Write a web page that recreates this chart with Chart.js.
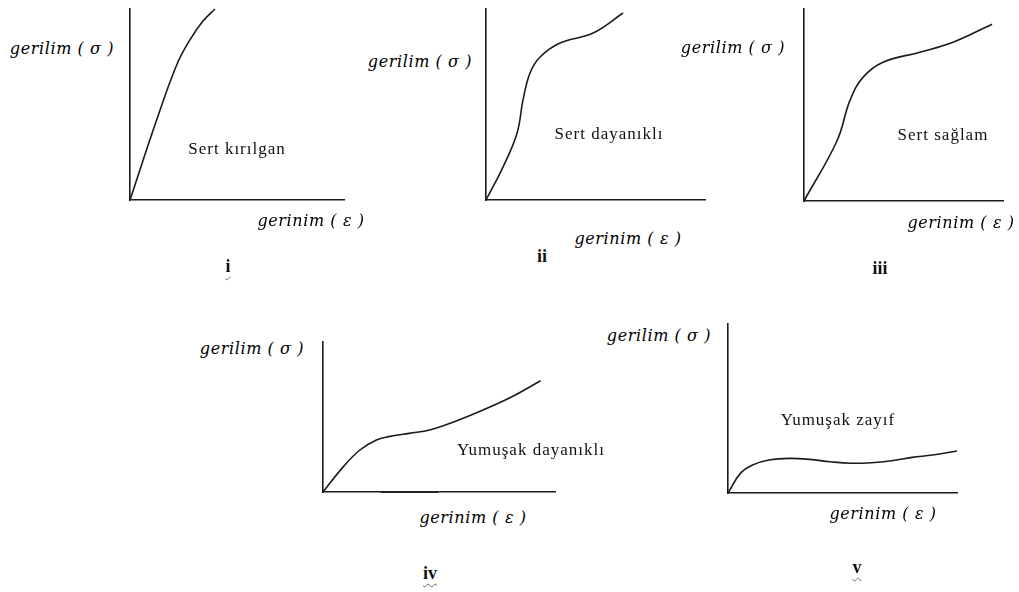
<!DOCTYPE html>
<html>
<head>
<meta charset="utf-8">
<script src="https://cdn.jsdelivr.net/npm/chart.js@4"></script>
<style>
  body { margin: 0; background: #fff; }
  #page { position: relative; width: 1019px; height: 592px; overflow: hidden; }
  canvas { position: absolute; }
  .lbl { position: absolute; white-space: nowrap; color: #111; transform: translate(-50%, -50%); }
  .ax { font-family: "DejaVu Serif", serif; font-style: italic; font-size: 16px; letter-spacing: 0.6px; color: #000; }
  .name { font-family: "Liberation Serif", serif; font-size: 17px; letter-spacing: 1px; }
  .num { font-family: "Liberation Serif", serif; font-size: 18px; font-weight: bold; }
  .squig { text-decoration: underline wavy #4f7d4f; text-decoration-thickness: 1px; text-underline-offset: 4px; }
</style>
</head>
<body>
<div id="page"></div>
<script>
// Stress-strain curves, both axes in % of the drawn axis length
const strainI = [0, 12.6, 22, 28, 34.1, 39.7];
const stressI = [0, 42.4, 71.2, 83.8, 93.7, 100];

const strainII = [0, 7.8, 14.2, 16.9, 20.1, 24.7, 33.8, 48.9, 62.6];
const stressII = [0, 17.3, 35.1, 52.4, 66.5, 74.9, 82.2, 87.4, 97.9];

const strainIII = [0, 16.6, 23.1, 29.6, 39.7, 58.3, 74.9, 94.5];
const stressIII = [0, 31.4, 52.4, 64.4, 72.3, 77.5, 82.7, 92.1];

const strainIV = [0, 8.8, 15.9, 23, 28.3, 37.2, 46, 56.6, 69, 81.4, 93.8];
const stressIV = [0, 16.9, 28, 34.7, 36.9, 39.1, 41.3, 46.9, 54.7, 63.5, 74.2];

// heavier stretch drawn over the strain axis of curve iv
const baseStrainIV = [24.8, 49.6];
const baseStressIV = [0, 0];

const strainV = [0, 5.4, 10.7, 17.9, 26.8, 35.7, 44.6, 53.6, 62.5, 71.4, 80.4, 89.3, 100];
const stressV = [0, 11.6, 16.6, 19.5, 20.5, 19.9, 18.5, 17.6, 17.9, 19.1, 21.1, 22.5, 24.9];

const yTitle = "gerilim ( σ )";
const xTitle = "gerinim ( ε )";
const typeNames = ["Sert kırılgan", "Sert dayanıklı", "Sert sağlam", "Yumuşak dayanıklı", "Yumuşak zayıf"];
const numerals = ["i", "ii", "iii", "iv", "v"];

// axis boxes and label centres on the page
const panels = [
  { box: [130, 9, 344, 200], strain: strainI, stress: stressI,
    yLbl: [62, 48], xLbl: [311, 220], nameLbl: [237, 149], numLbl: [228, 266], squig: true },
  { box: [486, 9, 705, 200], strain: strainII, stress: stressII,
    yLbl: [420, 61], xLbl: [628, 238], nameLbl: [609, 134], numLbl: [542, 256], squig: false },
  { box: [804, 9, 1003, 201], strain: strainIII, stress: stressIII,
    yLbl: [733, 47], xLbl: [961, 222], nameLbl: [943, 135], numLbl: [880, 268], squig: false },
  { box: [323, 342, 555, 492], strain: strainIV, stress: stressIV,
    base: [baseStrainIV, baseStressIV],
    yLbl: [252, 348], xLbl: [473, 517], nameLbl: [531, 450], numLbl: [430, 573], squig: true },
  { box: [728, 324, 957, 493], strain: strainV, stress: stressV,
    yLbl: [659, 335], xLbl: [883, 513], nameLbl: [838, 420], numLbl: [857, 567], squig: true },
];

const page = document.getElementById("page");
const PAD = 12;

function addLabel(text, cls, pos) {
  const div = document.createElement("div");
  div.className = "lbl " + cls;
  div.textContent = text;
  div.style.left = pos[0] + "px";
  div.style.top = pos[1] + "px";
  page.appendChild(div);
}

function axisOpts() {
  return {
    type: "linear",
    min: 0,
    max: 100,
    grid: { display: false, drawTicks: false },
    ticks: { display: false },
    border: { display: true, color: "#1b1b1b", width: 1.6 },
  };
}

function toPoints(xs, ys) {
  return xs.map((x, k) => ({ x: x, y: ys[k] }));
}

panels.forEach((p, i) => {
  const [x0, y0, x1, y1] = p.box;
  const canvas = document.createElement("canvas");
  canvas.width = x1 - x0 + 2 * PAD;
  canvas.height = y1 - y0 + 2 * PAD;
  canvas.style.left = (x0 - PAD) + "px";
  canvas.style.top = (y0 - PAD) + "px";
  page.appendChild(canvas);

  const datasets = [{
    data: toPoints(p.strain, p.stress),
    borderColor: "#1b1b1b",
    borderWidth: 1.6,
    pointRadius: 0,
    tension: 0.4,
    fill: false,
    clip: false,
  }];
  if (p.base) {
    datasets.push({
      data: toPoints(p.base[0], p.base[1]),
      borderColor: "#222",
      borderWidth: 2.2,
      pointRadius: 0,
      clip: false,
    });
  }

  new Chart(canvas.getContext("2d"), {
    type: "line",
    data: { datasets: datasets },
    options: {
      responsive: false,
      animation: false,
      events: [],
      layout: { padding: PAD },
      plugins: { legend: { display: false }, tooltip: { enabled: false } },
      scales: { x: axisOpts(), y: axisOpts() },
    },
  });

  addLabel(yTitle, "ax", p.yLbl);
  addLabel(xTitle, "ax", p.xLbl);
  addLabel(typeNames[i], "name", p.nameLbl);
  addLabel(numerals[i], "num" + (p.squig ? " squig" : ""), p.numLbl);
});
</script>
</body>
</html>
